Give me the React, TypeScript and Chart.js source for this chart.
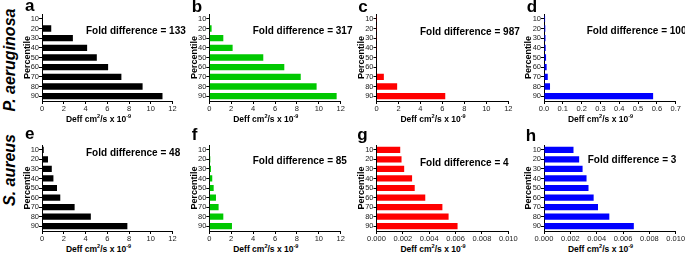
import React, { useEffect, useRef } from "react";
import { Chart, registerables } from "chart.js";

Chart.register(...registerables);

// ---------- data ----------
const percentiles = ["10", "20", "30", "40", "50", "60", "70", "80", "90"];

const deffA = [0.08, 0.85, 2.84, 4.15, 5.04, 6.08, 7.3, 9.25, 11.08];
const deffB = [0.037, 0.21, 1.28, 2.13, 4.93, 6.85, 8.35, 9.8, 11.63];
const deffC = [0.0063, 0.01, 0.015, 0.02, 0.03, 0.05, 0.67, 1.88, 6.26];
const deffD = [0.0058, 0.007, 0.008, 0.009, 0.011, 0.014, 0.02, 0.032, 0.58];
const deffE = [0.16, 0.55, 0.9, 1.05, 1.38, 1.68, 3.0, 4.49, 7.85];
const deffF = [0.025, 0.09, 0.15, 0.27, 0.4, 0.61, 0.85, 1.28, 2.07];
const deffG = [0.0018, 0.0019, 0.0021, 0.0027, 0.0029, 0.0037, 0.005, 0.00547, 0.00615];
const deffH = [0.00224, 0.00267, 0.00293, 0.00323, 0.00338, 0.00377, 0.0041, 0.00496, 0.00682];

const panelLetters = ["a", "b", "c", "d", "e", "f", "g", "h"];
const foldDifferences = ["133", "317", "987", "100", "48", "85", "4", "3"];
const speciesNames = ["P. aeruginosa", "S. aureus"];
const axisMax = [12, 12, 12, 0.7, 12, 12, 0.01, 0.01];
const axisStep = [2, 2, 2, 0.1, 2, 2, 0.002, 0.002];
const axisDecimals = [0, 0, 0, 1, 0, 0, 3, 3];
const yTitle = "Percentile";

// ---------- styling ----------
const FONT = "'Liberation Sans', Arial, Helvetica, sans-serif";
const colors = ["#000000", "#00c800", "#ff0000", "#0000ff"];
const allData = [deffA, deffB, deffC, deffD, deffE, deffF, deffG, deffH];

const cols = [
  { canvasLeft: 22, yW: 20, plotW: 130.5 },
  { canvasLeft: 189, yW: 20.3, plotW: 131.4 },
  { canvasLeft: 356, yW: 20.5, plotW: 131.8 },
  { canvasLeft: 523, yW: 21, plotW: 131.7 },
];
const rows = [
  { plotTop: 14, plotBottom: 101 },
  { plotTop: 145, plotBottom: 231 },
];
const PAD_TOP = 6;
const X_H = 12;

const foldPos = [
  { x: 86, base: 34.6 },
  { x: 252.7, base: 34.6 },
  { x: 420, base: 35.9 },
  { x: 586.7, base: 34.6 },
  { x: 86, base: 156.9 },
  { x: 252.7, base: 164.6 },
  { x: 420, base: 166.3 },
  { x: 587.7, base: 163.9 },
];
const letterPos = [
  { x: 25, base: 11.3 },
  { x: 191.7, base: 12.5 },
  { x: 358.3, base: 12 },
  { x: 526.7, base: 12.5 },
  { x: 25, base: 139 },
  { x: 191.7, base: 140 },
  { x: 357.3, base: 140.5 },
  { x: 525.7, base: 141 },
];

function Panel({ idx }: { idx: number }) {
  const ref = useRef<HTMLCanvasElement | null>(null);
  const col = cols[idx % 4];
  const row = rows[Math.floor(idx / 4)];
  const plotH = row.plotBottom - row.plotTop;
  const width = Math.ceil(col.yW + col.plotW + 11);
  const padRight = width - col.yW - col.plotW;
  const height = PAD_TOP + plotH + X_H;
  const top = row.plotTop - PAD_TOP;

  useEffect(() => {
    if (!ref.current) return;
    const decimals = axisDecimals[idx];
    const chart = new Chart(ref.current, {
      type: "bar",
      data: {
        labels: percentiles,
        datasets: [
          {
            data: allData[idx],
            backgroundColor: colors[idx % 4],
            borderWidth: 0,
            barPercentage: 0.65,
            categoryPercentage: 1,
          },
        ],
      },
      options: {
        indexAxis: "y",
        animation: false,
        responsive: false,
        devicePixelRatio: 1,
        layout: { padding: { left: 0, top: PAD_TOP, right: padRight, bottom: 0 } },
        plugins: { legend: { display: false }, tooltip: { enabled: false } },
        scales: {
          x: {
            type: "linear",
            min: 0,
            max: axisMax[idx],
            ticks: {
              stepSize: axisStep[idx],
              autoSkip: false,
              maxRotation: 0,
              padding: 0,
              color: "#222",
              font: { family: FONT, size: 7.5 },
              callback: (v: any) => Number(v).toFixed(decimals),
            },
            grid: {
              display: true,
              drawOnChartArea: false,
              drawTicks: true,
              tickLength: 3,
              color: "#000",
              lineWidth: 1,
            },
            border: { display: true, color: "#000", width: 1 },
            afterFit: (s: any) => {
              s.height = X_H;
              s.paddingLeft = 0;
              s.paddingRight = 0;
            },
          },
          y: {
            type: "category",
            ticks: {
              autoSkip: false,
              padding: 0,
              color: "#222",
              font: { family: FONT, size: 7.5 },
            },
            grid: {
              display: true,
              offset: false,
              drawOnChartArea: false,
              drawTicks: true,
              tickLength: 3,
              color: "#000",
              lineWidth: 1,
            },
            border: { display: true, color: "#000", width: 1 },
            title: {
              display: true,
              text: yTitle,
              color: "#000",
              padding: 0,
              font: { family: FONT, size: 9, weight: "bold" },
            },
            afterFit: (s: any) => {
              s.width = col.yW;
              s.paddingTop = 0;
              s.paddingBottom = 0;
            },
          },
        },
      } as any,
    });
    return () => chart.destroy();
  }, [idx]);

  return (
    <canvas
      ref={ref}
      width={width}
      height={height}
      style={{ position: "absolute", left: col.canvasLeft, top, width, height, display: "block" }}
    />
  );
}

function Txt({
  x,
  base,
  size,
  children,
  style,
}: {
  x: number;
  base: number;
  size: number;
  children: any;
  style?: any;
}) {
  return (
    <div
      style={{
        position: "absolute",
        left: x,
        top: base - 0.8465 * size,
        fontSize: size,
        lineHeight: `${size}px`,
        fontWeight: "bold",
        whiteSpace: "nowrap",
        color: "#000",
        ...style,
      }}
    >
      {children}
    </div>
  );
}

const supStyle: any = {
  fontSize: "0.65em",
  position: "relative",
  top: "-0.55em",
  verticalAlign: "baseline",
  lineHeight: 0,
};

function XTitle({ cx, base }: { cx: number; base: number }) {
  return (
    <Txt x={cx} base={base} size={8.5} style={{ transform: "translateX(-50%)" }}>
      Deff cm<span style={supStyle}>2</span>/s x 10<span style={supStyle}>-9</span>
    </Txt>
  );
}

export default function App() {
  return (
    <div
      style={{
        position: "fixed",
        left: 0,
        top: 0,
        width: 685,
        height: 253,
        overflow: "hidden",
        background: "#fff",
        fontFamily: FONT,
      }}
    >
      {panelLetters.map((_, i) => (
        <Panel key={"p" + i} idx={i} />
      ))}
      {panelLetters.map((l, i) => (
        <Txt key={"l" + i} x={letterPos[i].x} base={letterPos[i].base} size={17}>
          {l}
        </Txt>
      ))}
      {foldDifferences.map((f, i) => (
        <Txt key={"f" + i} x={foldPos[i].x} base={foldPos[i].base} size={10}>
          {"Fold difference = " + f}
        </Txt>
      ))}
      {panelLetters.map((_, i) => {
        const col = cols[i % 4];
        const row = rows[Math.floor(i / 4)];
        const plotLeft = col.canvasLeft + col.yW;
        return <XTitle key={"x" + i} cx={plotLeft + 56.5} base={row.plotBottom + 20.7} />;
      })}
      {speciesNames.map((s, i) => (
        <div
          key={"s" + i}
          style={{
            position: "absolute",
            left: 9.5,
            top: i === 0 ? 60 : 170,
            transform: "translate(-50%, -50%) rotate(-90deg)",
            fontSize: 16,
            lineHeight: "16px",
            fontWeight: "bold",
            fontStyle: "italic",
            whiteSpace: "nowrap",
            color: "#000",
          }}
        >
          {s}
        </div>
      ))}
    </div>
  );
}
